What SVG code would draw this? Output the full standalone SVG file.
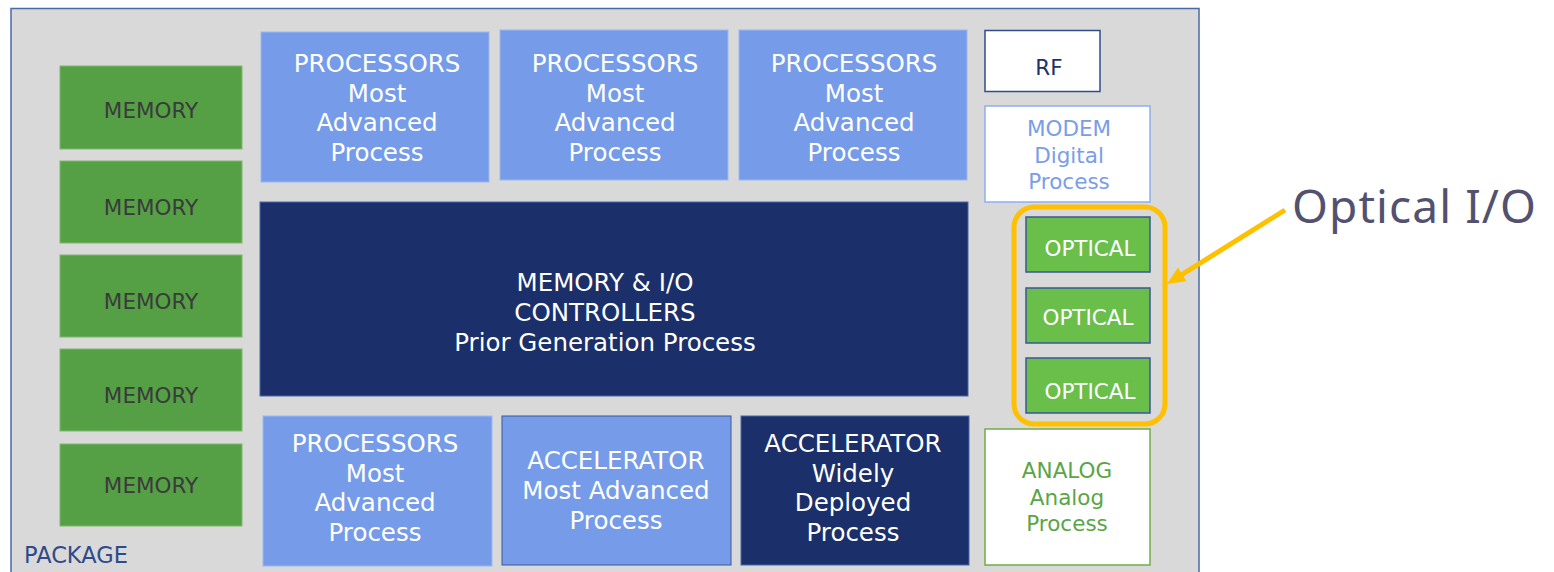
<svg xmlns="http://www.w3.org/2000/svg" width="1554" height="572" viewBox="0 0 1554 572">
  <style>
    text { font-family: "DejaVu Sans", Verdana, sans-serif; text-anchor: middle; }
    .mem rect { fill: #55a045; stroke: #7fb86e; stroke-width: 1; }
    .mem text { fill: #3b3b3b; font-size: 21.5px; }
    .proc rect { fill: #769ce9; stroke: #9bb7ef; stroke-width: 1; }
    .proc text, .ctrl text, .accd text { fill: #ffffff; font-size: 24.5px; }
    .ctrl rect, .accd rect { fill: #1b2f6a; stroke: #4a67a8; stroke-width: 1; }
    .opt rect { fill: #6abf4b; stroke: #3a5896; stroke-width: 1.5; }
    .opt text { fill: #ffffff; font-size: 21.5px; }
    .small text { font-size: 21.5px; }
    .callout { stroke: #ffc000; }
  </style>

  <rect width="1554" height="572" fill="#ffffff"/>

  <!-- package outline -->
  <g id="package">
    <rect x="11" y="8.5" width="1188" height="570" fill="#d9d9d9" stroke="#4a6aa6" stroke-width="1.5"/>
    <text x="24" y="563" style="text-anchor:start; font-size:22.5px; fill:#2f4a8a">PACKAGE</text>
  </g>

  <!-- memory column -->
  <g id="memory1" class="mem"><rect x="60" y="66" width="182" height="83"/><text x="151" y="118">MEMORY</text></g>
  <g id="memory2" class="mem"><rect x="60" y="161" width="182" height="82"/><text x="151" y="215">MEMORY</text></g>
  <g id="memory3" class="mem"><rect x="60" y="255" width="182" height="82"/><text x="151" y="309">MEMORY</text></g>
  <g id="memory4" class="mem"><rect x="60" y="349" width="182" height="82"/><text x="151" y="403">MEMORY</text></g>
  <g id="memory5" class="mem"><rect x="60" y="444" width="182" height="82"/><text x="151" y="493">MEMORY</text></g>

  <!-- top processor row -->
  <g id="proc1" class="proc">
    <rect x="261" y="32" width="228" height="150"/>
    <text x="377" y="72">PROCESSORS</text><text x="377" y="102">Most</text>
    <text x="377" y="131">Advanced</text><text x="377" y="161">Process</text>
  </g>
  <g id="proc2" class="proc">
    <rect x="500" y="30" width="228" height="150"/>
    <text x="615" y="72">PROCESSORS</text><text x="615" y="102">Most</text>
    <text x="615" y="131">Advanced</text><text x="615" y="161">Process</text>
  </g>
  <g id="proc3" class="proc">
    <rect x="739" y="30" width="228" height="150"/>
    <text x="854" y="72">PROCESSORS</text><text x="854" y="102">Most</text>
    <text x="854" y="131">Advanced</text><text x="854" y="161">Process</text>
  </g>

  <!-- central controller die -->
  <g id="controllers" class="ctrl">
    <rect x="260" y="202" width="708" height="194"/>
    <text x="605" y="291">MEMORY &amp; I/O</text>
    <text x="605" y="321">CONTROLLERS</text>
    <text x="605" y="351">Prior Generation Process</text>
  </g>

  <!-- bottom row -->
  <g id="proc4" class="proc">
    <rect x="263" y="416" width="229" height="150"/>
    <text x="375" y="452">PROCESSORS</text><text x="375" y="482">Most</text>
    <text x="375" y="511">Advanced</text><text x="375" y="541">Process</text>
  </g>
  <g id="accel1" class="proc">
    <rect x="502" y="416" width="229" height="149" style="stroke:#3a5896"/>
    <text x="616" y="469">ACCELERATOR</text>
    <text x="616" y="499">Most Advanced</text>
    <text x="616" y="529">Process</text>
  </g>
  <g id="accel2" class="accd">
    <rect x="741" y="416" width="228" height="149"/>
    <text x="853" y="452">ACCELERATOR</text><text x="853" y="482">Widely</text>
    <text x="853" y="511">Deployed</text><text x="853" y="541">Process</text>
  </g>

  <!-- right column -->
  <g id="rf" class="small">
    <rect x="985" y="30.5" width="115" height="61" fill="#ffffff" stroke="#2f4d8a" stroke-width="1.5"/>
    <text x="1049" y="75" fill="#1f3368">RF</text>
  </g>
  <g id="modem" class="small">
    <rect x="985" y="106" width="165" height="96" fill="#ffffff" stroke="#8eaef0" stroke-width="1.5"/>
    <text x="1069" y="136" fill="#7a9de8">MODEM</text>
    <text x="1069" y="163" fill="#7a9de8">Digital</text>
    <text x="1069" y="189" fill="#7a9de8">Process</text>
  </g>
  <g id="optical1" class="opt"><rect x="1026" y="217" width="124" height="55"/><text x="1090" y="256">OPTICAL</text></g>
  <g id="optical2" class="opt"><rect x="1026" y="288" width="124" height="55"/><text x="1088" y="325">OPTICAL</text></g>
  <g id="optical3" class="opt"><rect x="1026" y="358" width="124" height="55"/><text x="1090" y="399">OPTICAL</text></g>
  <g id="analog" class="small">
    <rect x="985" y="429" width="165" height="136" fill="#ffffff" stroke="#70ad47" stroke-width="1.5"/>
    <text x="1067" y="478" fill="#5aa545">ANALOG</text>
    <text x="1067" y="505" fill="#5aa545">Analog</text>
    <text x="1067" y="531" fill="#5aa545">Process</text>
  </g>

  <!-- optical I/O callout -->
  <g id="optical-io">
    <rect class="callout" x="1014" y="207" width="151" height="217" rx="20" ry="20" fill="none" stroke-width="5"/>
    <text x="1292" y="223" textLength="244" lengthAdjust="spacing" style="text-anchor:start; font-family:'Noto Sans','DejaVu Sans',sans-serif; font-size:46px; fill:#525170">Optical I/O</text>
  </g>

  <g id="connectors">
    <line class="callout" x1="1285" y1="210" x2="1178" y2="277" stroke-width="5"/>
    <polygon points="1167,284 1186.4,281.2 1178,267.6" fill="#ffc000"/>
  </g>
</svg>
